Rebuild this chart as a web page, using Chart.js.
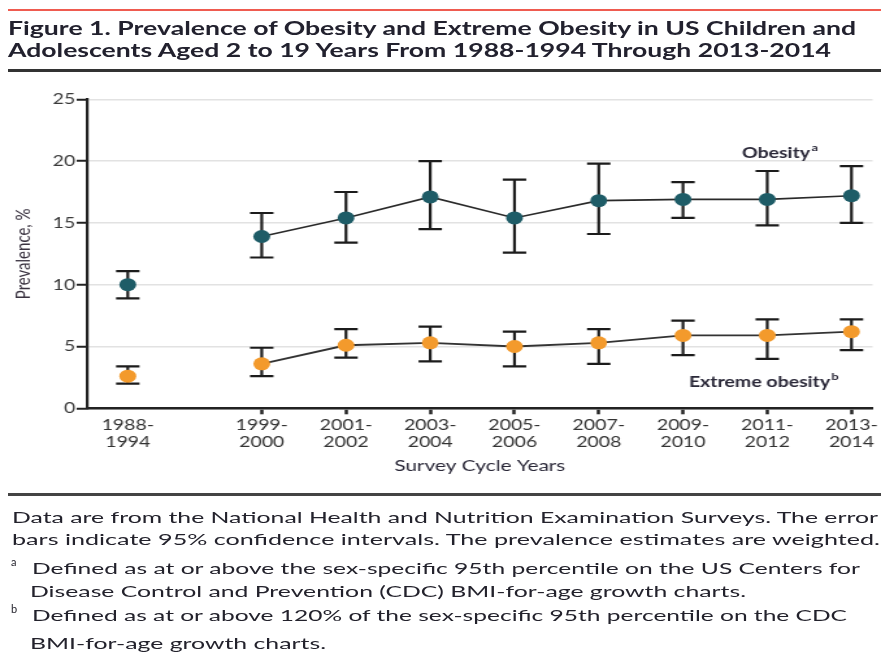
<!DOCTYPE html>
<html>
<head>
<meta charset="utf-8">
<script src="https://cdn.jsdelivr.net/npm/chart.js@4.4.1/dist/chart.umd.min.js"></script>
<style>
html,body{margin:0;padding:0;background:#fff;}
body{width:881px;height:660px;position:relative;overflow:hidden;font-family:Lato,"Open Sans",sans-serif;color:#23222c;}
#chart{position:absolute;left:0;top:0;width:881px;height:660px;}
.ln{position:absolute;white-space:nowrap;transform-origin:0 50%;}
.t{font-weight:bold;font-size:18px;line-height:22px;color:#22212e;}
.f{font-size:16px;line-height:20px;}
.sup{position:absolute;font-size:11px;line-height:12px;}
.rule{position:absolute;left:8px;right:0;}
</style>
</head>
<body>
<canvas id="chart" width="678" height="660" style="width:881px;height:660px"></canvas>

<div class="rule" style="top:9px;height:2px;background:#ef5b50"></div>
<div class="ln t" data-w="848" style="left:8px;top:17px">Figure 1. Prevalence of Obesity and Extreme Obesity in US Children and</div>
<div class="ln t" data-w="823" style="left:8px;top:39px">Adolescents Aged 2 to 19 Years From 1988-1994 Through 2013-2014</div>
<div class="rule" style="top:69px;height:3px;background:#333"></div>

<div class="rule" style="top:493px;height:3px;background:#444"></div>
<div class="ln f" data-w="866" style="left:12px;top:507px">Data are from the National Health and Nutrition Examination Surveys. The error</div>
<div class="ln f" data-w="868" style="left:12px;top:529px">bars indicate 95% confidence intervals. The prevalence estimates are weighted.</div>
<div class="sup" style="left:11px;top:556px">a</div>
<div class="ln f" data-w="828" style="left:32px;top:558px">Defined as at or above the sex-specific 95th percentile on the US Centers for</div>
<div class="ln f" data-w="716" style="left:30px;top:581px">Disease Control and Prevention (CDC) BMI-for-age growth charts.</div>
<div class="sup" style="left:11px;top:603px">b</div>
<div class="ln f" data-w="815" style="left:32px;top:605px">Defined as at or above 120% of the sex-specific 95th percentile on the CDC</div>
<div class="ln f" data-w="296" style="left:30px;top:633px">BMI-for-age growth charts.</div>

<script>
// ---- data ----
const cycles = ['1988-1994','1999-2000','2001-2002','2003-2004','2005-2006','2007-2008','2009-2010','2011-2012','2013-2014'];
const obesity      = [10.0, 13.9, 15.4, 17.1, 15.4, 16.8, 16.9, 16.9, 17.2];
const obesityLow   = [ 8.9, 12.2, 13.4, 14.5, 12.6, 14.1, 15.4, 14.8, 15.0];
const obesityHigh  = [11.1, 15.8, 17.5, 20.0, 18.5, 19.8, 18.3, 19.2, 19.6];
const extreme      = [ 2.6,  3.6,  5.1,  5.3,  5.0,  5.3,  5.9,  5.9,  6.2];
const extremeLow   = [ 2.0,  2.6,  4.1,  3.8,  3.4,  3.6,  4.3,  4.0,  4.7];
const extremeHigh  = [ 3.4,  4.9,  6.4,  6.6,  6.2,  6.4,  7.1,  7.2,  7.2];
const yTicks = [0, 5, 10, 15, 20, 25];

// ---- layout helpers (axis break between 1988-1994 and 1999-2000) ----
const breakGap = 1.59;
const slotOf = i => (i === 0 ? -breakGap : i - 1);

const tealColor = '#1e5c67';
const orangeColor = '#f39a2c';
const inkColor = '#222';

const errorBars = {
  id: 'errorBars',
  beforeDatasetsDraw(chart) {
    const {ctx, scales: {x, y}} = chart;
    const cap = 9;
    ctx.save();
    ctx.strokeStyle = '#1c1c1c';
    ctx.lineWidth = 2.2;
    [[obesityLow, obesityHigh], [extremeLow, extremeHigh]].forEach(([lo, hi]) => {
      lo.forEach((l, i) => {
        const px = x.getPixelForValue(slotOf(i));
        const pl = y.getPixelForValue(l);
        const ph = y.getPixelForValue(hi[i]);
        ctx.beginPath();
        ctx.moveTo(px, pl); ctx.lineTo(px, ph);
        ctx.moveTo(px - cap, pl); ctx.lineTo(px + cap, pl);
        ctx.moveTo(px - cap, ph); ctx.lineTo(px + cap, ph);
        ctx.stroke();
      });
    });
    ctx.restore();
  }
};

const seriesLabels = {
  id: 'seriesLabels',
  afterDatasetsDraw(chart) {
    const {ctx, scales: {x, y}} = chart;
    const items = [
      {text: 'Obesity', sup: 'a', sx: 5.70, vy: 20.65},
      {text: 'Extreme obesity', sup: 'b', sx: 5.07, vy: 2.13}
    ];
    ctx.save();
    ctx.fillStyle = '#2a2838';
    ctx.textBaseline = 'middle';
    ctx.textAlign = 'left';
    items.forEach(it => {
      const px = x.getPixelForValue(it.sx);
      const py = y.getPixelForValue(it.vy);
      ctx.font = 'bold 15px Lato, "Open Sans", sans-serif';
      ctx.fillText(it.text, px, py);
      const w = ctx.measureText(it.text).width;
      ctx.font = 'bold 10px Lato, "Open Sans", sans-serif';
      ctx.fillText(it.sup, px + w + 1, py - 5);
    });
    ctx.restore();
  }
};

const toPoints = vals => vals.map((v, i) => ({x: slotOf(i), y: v}));

Chart.defaults.font.family = 'Lato, "Open Sans", sans-serif';
Chart.defaults.color = '#333';

new Chart(document.getElementById('chart'), {
  type: 'line',
  data: {
    datasets: [
      {
        label: 'Obesity',
        data: toPoints(obesity),
        borderColor: '#2a2a2a',
        borderWidth: 1.6,
        pointBackgroundColor: tealColor,
        pointBorderWidth: 0,
        pointRadius: 6.5,
        pointHoverRadius: 6.5,
        segment: {borderColor: c => c.p0DataIndex === 0 ? 'rgba(0,0,0,0)' : '#2a2a2a'},
        clip: false
      },
      {
        label: 'Extreme obesity',
        data: toPoints(extreme),
        borderColor: '#333',
        borderWidth: 1.8,
        pointBackgroundColor: orangeColor,
        pointBorderWidth: 0,
        pointRadius: 6.5,
        pointHoverRadius: 6.5,
        segment: {borderColor: c => c.p0DataIndex === 0 ? 'rgba(0,0,0,0)' : '#333'},
        clip: false
      }
    ]
  },
  options: {
    responsive: false,
    devicePixelRatio: 1,
    animation: false,
    events: [],
    layout: {padding: {top: 99.3, right: 2.3, bottom: 184.4, left: 9.5}},
    plugins: {legend: {display: false}, tooltip: {enabled: false}},
    scales: {
      x: {
        type: 'linear',
        min: -2.074,
        max: 7.25,
        afterBuildTicks: s => { s.ticks = cycles.map((c, i) => ({value: slotOf(i)})); },
        afterFit: s => { s.height = 67.3; s.paddingLeft = 0; s.paddingRight = 0; },
        ticks: {
          autoSkip: false, maxRotation: 0, minRotation: 0, padding: 2,
          color: '#333',
          font: {size: 15, lineHeight: 1.15},
          callback: (v, i) => { const p = cycles[i].split('-'); return [p[0] + '-', p[1]]; }
        },
        grid: {
          drawOnChartArea: false, drawTicks: true, tickLength: 6, tickWidth: 2.5,
          tickColor: c => c.index === 0 ? 'rgba(0,0,0,0)' : inkColor
        },
        border: {display: true, color: inkColor, width: 2.5},
        title: {display: true, text: 'Survey Cycle Years', color: '#2a2838', font: {size: 16}, padding: 0}
      },
      y: {
        min: 0,
        max: 25,
        afterBuildTicks: s => { s.ticks = yTicks.map(v => ({value: v})); },
        afterFit: s => { s.width = 57.45; s.paddingTop = 0; s.paddingBottom = 0; },
        ticks: {padding: 1, color: '#3a3a3a', font: {size: 15}},
        grid: {color: '#e2e2e2', lineWidth: 1.5, tickLength: 8, tickWidth: 2, tickColor: inkColor},
        border: {display: true, color: inkColor, width: 2.2},
        title: {display: true, text: 'Prevalence, %', color: '#3a3340', font: {size: 15}, padding: 0}
      }
    }
  },
  plugins: [errorBars, seriesLabels]
});

function fitLines() {
  document.querySelectorAll('[data-w]').forEach(el => {
    el.style.transform = 'none';
    const w = el.getBoundingClientRect().width;
    el.style.transform = 'scaleX(' + (parseFloat(el.dataset.w) / w) + ')';
  });
}
fitLines();
if (document.fonts && document.fonts.ready) document.fonts.ready.then(fitLines);
</script>
</body>
</html>
